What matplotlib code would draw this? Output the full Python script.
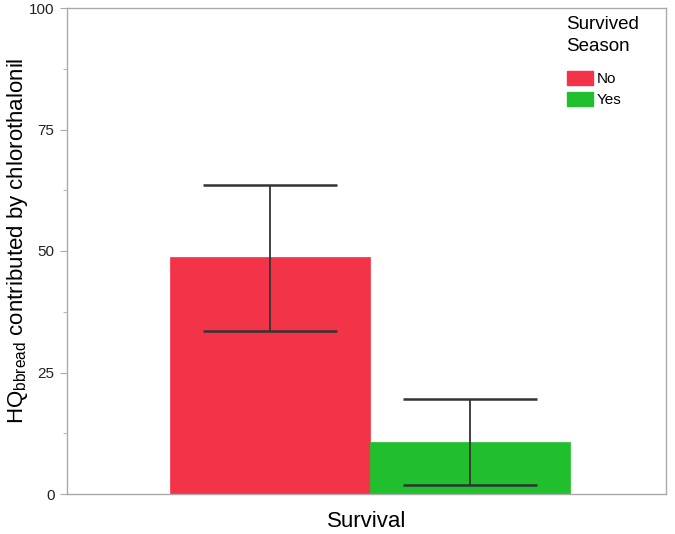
import matplotlib
matplotlib.use('Agg')
import matplotlib.pyplot as plt
from matplotlib.ticker import MultipleLocator
from matplotlib.patches import Patch

groups = ['No', 'Yes']
means = [48.7, 10.7]
err_low = [33.6, 1.9]
err_high = [63.5, 19.6]
colors = ['#F23348', '#21BE2E']
yticks = [0, 25, 50, 75, 100]

plt.rcParams['font.family'] = ['Liberation Sans', 'DejaVu Sans']

fig = plt.figure(figsize=(6.75, 5.34), dpi=100)
ax = fig.add_axes([67/675, 1-494/534, 599/675, 486/534])

xs = [-0.5, 0.5]
for x, m, lo, hi, c in zip(xs, means, err_low, err_high, colors):
    ax.bar(x, m, width=1.0, color=c, edgecolor=c, linewidth=0.5, zorder=2)
    ax.errorbar(x, m, yerr=[[m - lo], [hi - m]], fmt='none', ecolor='#333333',
                elinewidth=1.3, capsize=48, capthick=1.8, zorder=3)

ax.set_xlim(-1.515, 1.48)
ax.set_ylim(0, 100)
ax.set_yticks(yticks)
ax.yaxis.set_minor_locator(MultipleLocator(12.5))
ax.set_xticks([])
ax.tick_params(axis='y', which='major', length=5, color='#aaaaaa', labelsize=11,
               labelcolor='#222222', pad=4)
ax.tick_params(axis='y', which='minor', length=3, color='#aaaaaa')
for s in ax.spines.values():
    s.set_color('#aaaaaa')
    s.set_linewidth(1)

ax.set_ylabel('HQ$_{\\mathregular{bbread}}$ contributed by chlorothalonil', fontsize=16,
              va='center', ha='center')
ax.yaxis.set_label_coords(-0.082, 0.522)
ax.set_xlabel('Survival', fontsize=16, labelpad=12)

handles = [Patch(facecolor=c, edgecolor=c, label=g) for g, c in zip(groups, colors)]
leg = ax.legend(handles=handles, title='Survived\nSeason', loc='upper left',
                bbox_to_anchor=(0.834, 0.983), frameon=False, fontsize=11,
                title_fontsize=13.5, handlelength=1.7, handleheight=1.05,
                handletextpad=0.3, labelspacing=0.4, borderaxespad=0.0,
                borderpad=0.0)
leg._legend_box.align = 'left'
leg._legend_box.sep = 11
leg.get_title().set_linespacing(1.4)

fig.savefig('out.png', dpi=100)
